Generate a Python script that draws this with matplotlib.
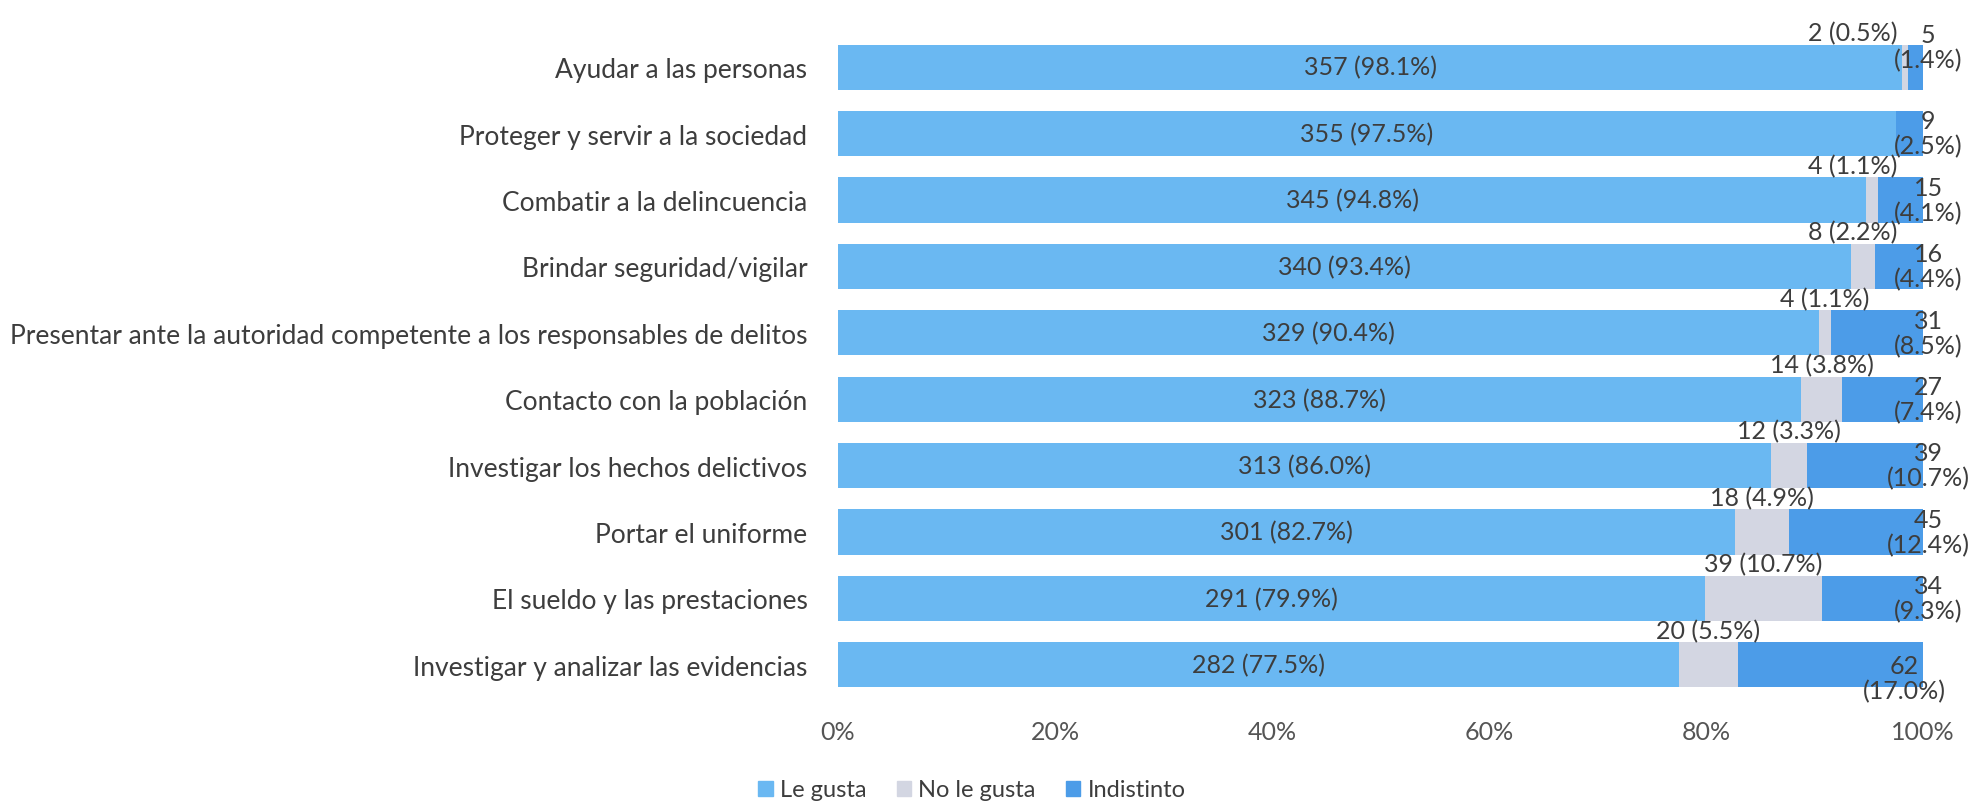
import matplotlib
matplotlib.use("Agg")
import matplotlib.pyplot as plt
from matplotlib.patches import Patch

plt.rcParams['font.family'] = ['Lato', 'DejaVu Sans']

categorias = [
    "Ayudar a las personas",
    "Proteger y servir a la sociedad",
    "Combatir a la delincuencia",
    "Brindar seguridad/vigilar",
    "Presentar ante la autoridad competente a los responsables de delitos",
    "Contacto con la población",
    "Investigar los hechos delictivos",
    "Portar el uniforme",
    "El sueldo y las prestaciones",
    "Investigar y analizar las evidencias",
]
le_gusta = [357, 355, 345, 340, 329, 323, 313, 301, 291, 282]
no_le_gusta = [2, 0, 4, 8, 4, 14, 12, 18, 39, 20]
indistinto = [5, 9, 15, 16, 31, 27, 39, 45, 34, 62]

c_gusta = "#6ab8f2"
c_no = "#d3d6e2"
c_ind = "#4c9ce8"
c_txt = "#3d3d3d"

fig = plt.figure(figsize=(19.69, 8.03), dpi=100)
ax = fig.add_axes([0.4256, 0.1295, 0.551, 0.827])

y = list(range(len(categorias)))
tot = [a + b + c for a, b, c in zip(le_gusta, no_le_gusta, indistinto)]
p1 = [a / t * 100 for a, t in zip(le_gusta, tot)]
p2 = [b / t * 100 for b, t in zip(no_le_gusta, tot)]
p3 = [c / t * 100 for c, t in zip(indistinto, tot)]
left3 = [a + b for a, b in zip(p1, p2)]

h = 0.68
ax.barh(y, p1, height=h, color=c_gusta)
ax.barh(y, p2, left=p1, height=h, color=c_no)
ax.barh(y, p3, left=left3, height=h, color=c_ind)

fs = 18
last = len(categorias) - 1
for i in y:
    ax.text(p1[i] / 2, i, f"{le_gusta[i]} ({p1[i]:.1f}%)", ha="center", va="center",
            fontsize=fs, color=c_txt)
    if no_le_gusta[i] > 0:
        xc = min(p1[i] + p2[i] / 2, 93.5)
        ax.text(xc, i - 0.52, f"{no_le_gusta[i]} ({p2[i]:.1f}%)", ha="center", va="center",
                fontsize=fs, color=c_txt)
    # etiqueta de "Indistinto" a la derecha de la barra
    xx, yy = 100.5, i
    if i == 0:
        yy = i - 0.3
    if i == last:
        xx, yy = 98.3, i + 0.2
    ax.text(xx, yy, f"{indistinto[i]}\n({p3[i]:.1f}%)", ha="center", va="center",
            fontsize=fs, color=c_txt, linespacing=1.1)

ax.set_xlim(0, 100)
ax.set_ylim(len(categorias) - 0.5, -0.5)
ax.set_yticks(y)
ax.set_yticklabels(categorias, fontsize=19, color=c_txt)
ax.set_xticks([0, 20, 40, 60, 80, 100])
ax.set_xticklabels(["0%", "20%", "40%", "60%", "80%", "100%"], fontsize=18, color="#555555")
ax.tick_params(length=0)
ax.tick_params(axis="y", pad=22)
ax.tick_params(axis="x", pad=16)
for s in ax.spines.values():
    s.set_visible(False)

handles = [Patch(color=c_gusta, label="Le gusta"),
           Patch(color=c_no, label="No le gusta"),
           Patch(color=c_ind, label="Indistinto")]
fig.legend(handles=handles, loc="center", bbox_to_anchor=(972 / 1969, 1 - 791 / 803),
           ncol=3, frameon=False, fontsize=17, handlelength=0.6, handleheight=0.6,
           handletextpad=0.3, columnspacing=1.3, labelcolor=c_txt)

fig.savefig("out.png", dpi=100)
